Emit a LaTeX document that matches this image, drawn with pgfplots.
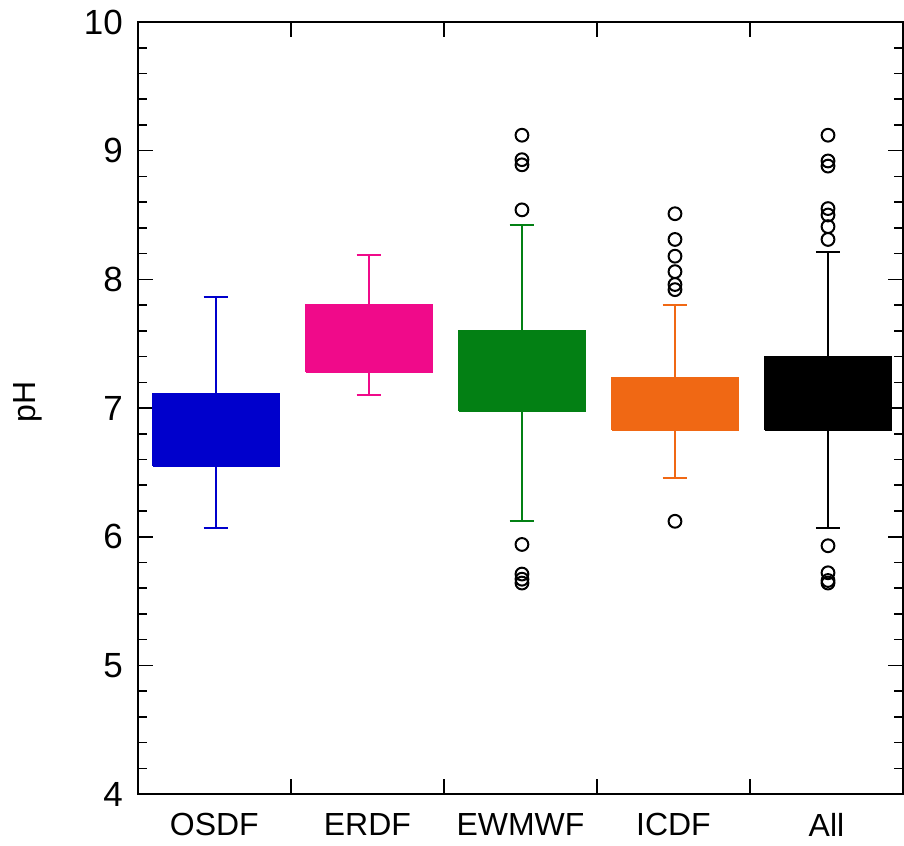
\documentclass[border=0pt]{standalone}
\usepackage{fontspec}
\setmainfont{Liberation Sans}
\usepackage{pgfplots}
\pgfplotsset{compat=1.18}
\definecolor{cOSDF}{RGB}{0,0,204}
\definecolor{cERDF}{RGB}{240,10,138}
\definecolor{cEWMWF}{RGB}{3,128,20}
\definecolor{cICDF}{RGB}{240,104,20}
\begin{document}
\begin{tikzpicture}
\begin{axis}[
  scale only axis,
  width=383pt, height=386.5pt,
  xmin=-0.5, xmax=4.5,
  ymin=4, ymax=10,
  ytick={4,5,6,7,8,9,10},
  minor y tick num=4,
  xtick={0.5,1.5,2.5,3.5},
  xticklabels={},
  extra x ticks={0,1,2,3,4},
  extra x tick labels={OSDF,ERDF,EWMWF,ICDF,All},
  extra x tick style={major tick length=0pt, tick label style={font=\fontsize{16}{19}\selectfont, yshift=-6pt}},
  major tick length=7.5pt,
  minor tick length=4.5pt,
  tick style={black, line width=0.8pt},
  axis line style={black, line width=1pt},
  yticklabel style={font=\fontsize{17.5}{20}\selectfont, xshift=-4pt},
  /pgf/number format/assume math mode=true,
  ylabel={pH},
  ylabel style={font=\fontsize{16}{19}\selectfont, at={(axis description cs:0,0.5)}, anchor=center, yshift=55pt, xshift=3pt},
  unbounded coords=jump,
]
% OSDF
\addplot[cOSDF, line width=1pt, mark=none] coordinates {(0.01,6.065) (0.01,7.865) (0.01,nan) (-0.07,7.865) (0.09,7.865) (0.01,nan) (-0.07,6.065) (0.09,6.065)};
\addplot[draw=cOSDF, fill=cOSDF, line width=1pt, mark=none] coordinates {(-0.4,6.55) (0.42,6.55) (0.42,7.11) (-0.4,7.11) (-0.4,6.55)};
% ERDF
\addplot[cERDF, line width=1pt, mark=none] coordinates {(1.01,7.10) (1.01,8.19) (1.01,nan) (0.93,8.19) (1.09,8.19) (1.01,nan) (0.93,7.10) (1.09,7.10)};
\addplot[draw=cERDF, fill=cERDF, line width=1pt, mark=none] coordinates {(0.6,7.28) (1.42,7.28) (1.42,7.80) (0.6,7.80) (0.6,7.28)};
% EWMWF
\addplot[cEWMWF, line width=1pt, mark=none] coordinates {(2.01,6.12) (2.01,8.42) (2.01,nan) (1.93,8.42) (2.09,8.42) (2.01,nan) (1.93,6.12) (2.09,6.12)};
\addplot[draw=cEWMWF, fill=cEWMWF, line width=1pt, mark=none] coordinates {(1.6,6.98) (2.42,6.98) (2.42,7.60) (1.6,7.60) (1.6,6.98)};
\addplot[only marks, mark=o, mark size=3.2pt, black, line width=1pt] coordinates {(2.01,9.12) (2.01,8.93) (2.01,8.89) (2.01,8.54) (2.01,5.94) (2.01,5.71) (2.01,5.67) (2.01,5.64)};
% ICDF
\addplot[cICDF, line width=1pt, mark=none] coordinates {(3.01,6.46) (3.01,7.80) (3.01,nan) (2.93,7.80) (3.09,7.80) (3.01,nan) (2.93,6.46) (3.09,6.46)};
\addplot[draw=cICDF, fill=cICDF, line width=1pt, mark=none] coordinates {(2.6,6.83) (3.42,6.83) (3.42,7.23) (2.6,7.23) (2.6,6.83)};
\addplot[only marks, mark=o, mark size=3.2pt, black, line width=1pt] coordinates {(3.01,8.51) (3.01,8.31) (3.01,8.18) (3.01,8.06) (3.01,7.96) (3.01,7.92) (3.01,6.12)};
% All
\addplot[black, line width=1pt, mark=none] coordinates {(4.01,6.07) (4.01,8.21) (4.01,nan) (3.93,8.21) (4.09,8.21) (4.01,nan) (3.93,6.07) (4.09,6.07)};
\addplot[draw=black, fill=black, line width=1pt, mark=none] coordinates {(3.6,6.83) (4.42,6.83) (4.42,7.40) (3.6,7.40) (3.6,6.83)};
\addplot[only marks, mark=o, mark size=3.2pt, black, line width=1pt] coordinates {(4.01,9.12) (4.01,8.92) (4.01,8.88) (4.01,8.55) (4.01,8.50) (4.01,8.41) (4.01,8.31) (4.01,5.93) (4.01,5.72) (4.01,5.66) (4.01,5.64)};
\end{axis}
\pgfresetboundingbox
\path ([xshift=-69pt,yshift=-25.5pt]current axis.south west) rectangle ([xshift=0.5pt,yshift=11pt]current axis.north east);
\end{tikzpicture}
\end{document}
